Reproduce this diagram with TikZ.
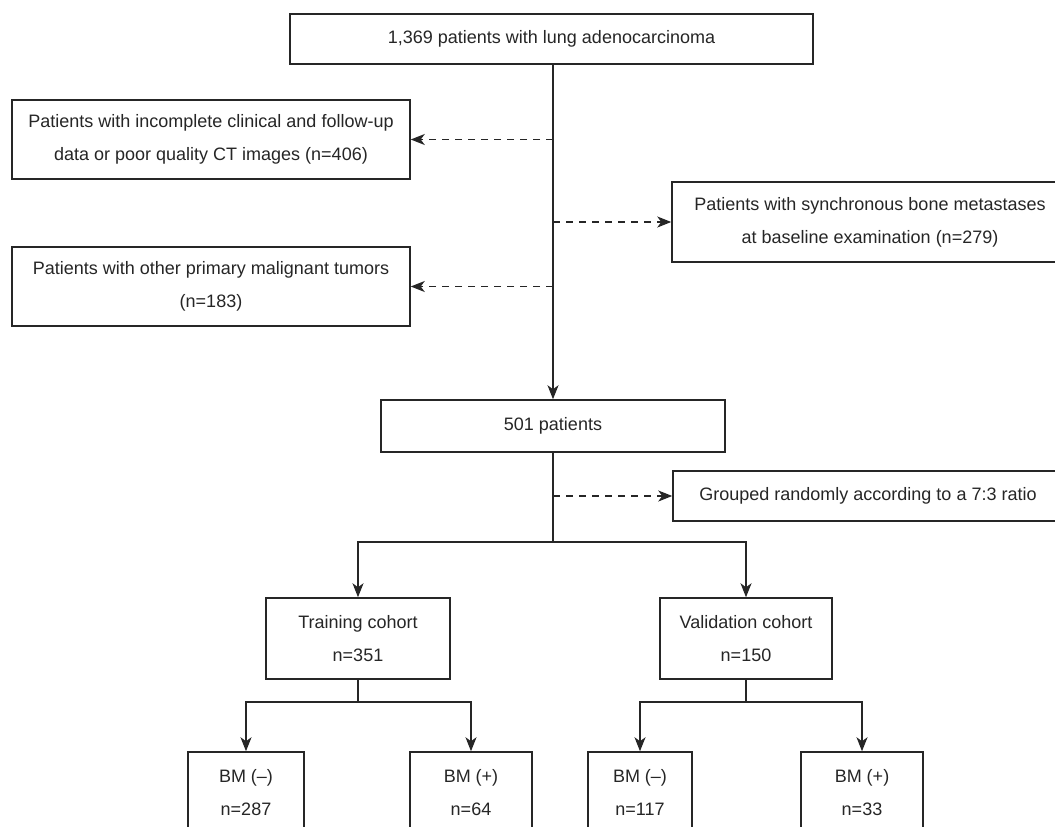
\documentclass[tikz,border=0pt]{standalone}
\usepackage{fontspec}
\setmainfont{Liberation Sans}
\usetikzlibrary{arrows.meta}
\definecolor{ink}{HTML}{262626}
\begin{document}
\begin{tikzpicture}[x=1pt,y=-1pt,
  box/.style={draw=ink, line width=1.5pt, text=ink, align=center, inner sep=0pt,
    font=\fontsize{18}{33}\selectfont},
  link/.style={draw=ink, line width=1.4pt},
  arr/.style={link, -{Stealth[length=14pt,width=11pt,inset=4pt]}},
  darr/.style={arr, dash pattern=on 7pt off 6pt}]
\clip (0,0) rectangle (1055,827);
\fill[white] (0,0) rectangle (1055,827);

\node[box, minimum width=523pt, minimum height=50pt] (top) at (551.5,39) {1,369 patients with lung adenocarcinoma};
\node[box, minimum width=398pt, minimum height=79pt] (exc1) at (211,139.5) {Patients with incomplete clinical and follow-up\\data or poor quality CT images (n=406)};
\node[box, minimum width=396pt, minimum height=80pt] (exc2) at (870,222) {Patients with synchronous bone metastases\\at baseline examination (n=279)};
\node[box, minimum width=398pt, minimum height=79pt] (exc3) at (211,286.5) {Patients with other primary malignant tumors\\(n=183)};
\node[box, minimum width=344pt, minimum height=52pt] (pts) at (553,426) {501 patients};
\node[box, minimum width=390pt, minimum height=50pt] (grp) at (868,496) {Grouped randomly according to a 7:3 ratio};
\node[box, minimum width=184pt, minimum height=81pt] (train) at (358,638.5) {Training cohort\\n=351};
\node[box, minimum width=172pt, minimum height=81pt] (valid) at (746,638.5) {Validation cohort\\n=150};
\node[box, minimum width=116pt, minimum height=81pt] (bm1) at (246,792.5) {BM (–)\\n=287};
\node[box, minimum width=122pt, minimum height=81pt] (bm2) at (471,792.5) {BM (+)\\n=64};
\node[box, minimum width=104pt, minimum height=81pt] (bm3) at (640,792.5) {BM (–)\\n=117};
\node[box, minimum width=122pt, minimum height=81pt] (bm4) at (862,792.5) {BM (+)\\n=33};

\draw[arr] (top.south -| pts.north) -- (pts.north);
\draw[darr] (pts.north |- exc1.east) -- (exc1.east);
\draw[darr] (pts.north |- exc2.west) -- (exc2.west);
\draw[darr] (pts.north |- exc3.east) -- (exc3.east);
\draw[darr] (pts.south |- grp.west) -- (grp.west);

\coordinate (s1) at (pts.south |- 0,542);
\draw[link] (pts.south) -- (s1);
\draw[arr] (s1) -| (train.north);
\draw[arr] (s1) -| (valid.north);

\coordinate (s2) at (train.south |- 0,702);
\draw[link] (train.south) -- (s2);
\draw[arr] (s2) -| (bm1.north);
\draw[arr] (s2) -| (bm2.north);

\coordinate (s3) at (valid.south |- 0,702);
\draw[link] (valid.south) -- (s3);
\draw[arr] (s3) -| (bm3.north);
\draw[arr] (s3) -| (bm4.north);
\end{tikzpicture}
\end{document}
